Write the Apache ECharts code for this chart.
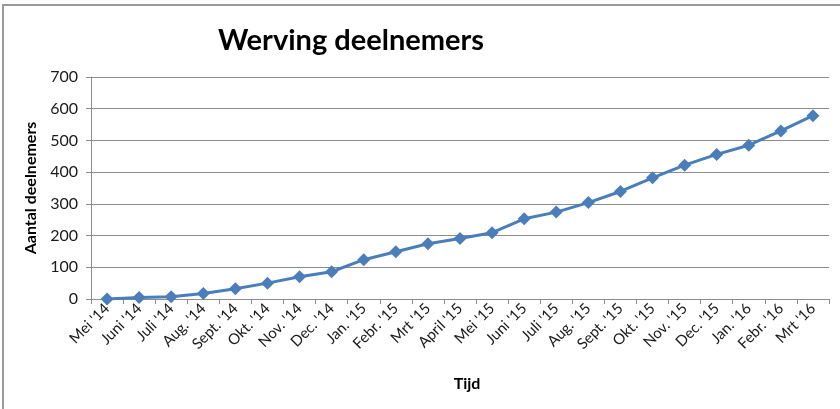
<!DOCTYPE html>
<html>
<head>
<meta charset="utf-8">
<script src="https://cdn.jsdelivr.net/npm/echarts@6/dist/echarts.min.js"></script>
<style>
html,body{margin:0;padding:0;background:#fff;}
#chart{width:840px;height:409px;}
</style>
</head>
<body>
<div id="chart"></div>
<script>
const categories = ["Mei '14","Juni '14","Juli '14","Aug. '14","Sept. '14","Okt. '14","Nov. '14","Dec. '14","Jan. '15","Febr. '15","Mrt '15","April '15","Mei '15","Juni '15","Juli '15","Aug. '15","Sept. '15","Okt. '15","Nov. '15","Dec. '15","Jan. '16","Febr. '16","Mrt '16"];
const deelnemers = [0,5,7,17,32,50,70,86,124,149,174,191,209,253,274,304,339,382,422,456,485,530,578];
const yTicks = {min:0, max:700, interval:100};

const chart = echarts.init(document.getElementById('chart'));
const font = 'Lato, "Liberation Sans", sans-serif';
chart.setOption({
  animation:false,
  backgroundColor:'#fff',
  graphic:[{type:'rect',shape:{x:3,y:5,width:900,height:500},style:{fill:'none',stroke:'#9a9a9a',lineWidth:2},silent:true}],
  title:{text:'Werving deelnemers',left:346,top:21,textAlign:'center',textStyle:{fontFamily:font,fontSize:29,fontWeight:'bold',color:'#000'}},
  grid:{left:91,right:11,top:77,bottom:110,containLabel:false},
  xAxis:{type:'category',data:categories,boundaryGap:true,
    name:'Tijd',nameLocation:'middle',nameGap:77,
    nameTextStyle:{fontFamily:font,fontSize:16,fontWeight:'bold',color:'#000',padding:[0,0,0,14]},
    axisLine:{lineStyle:{color:'#8c8c8c',width:1}},
    axisTick:{show:true,alignWithLabel:false,length:5,lineStyle:{color:'#8c8c8c'}},
    axisLabel:{rotate:45,interval:0,margin:7,fontFamily:font,fontSize:15,color:'#1a1a1a'},
    splitLine:{show:false}},
  yAxis:{type:'value',min:yTicks.min,max:yTicks.max,interval:yTicks.interval,
    name:'Aantal deelnemers',nameLocation:'middle',nameGap:49,nameRotate:90,
    nameTextStyle:{fontFamily:font,fontSize:16,fontWeight:'bold',color:'#000'},
    axisLine:{show:true,lineStyle:{color:'#8c8c8c',width:1}},
    axisTick:{show:true,length:5,lineStyle:{color:'#8c8c8c'}},
    axisLabel:{margin:13,fontFamily:font,fontSize:16,color:'#1a1a1a'},
    splitLine:{show:true,lineStyle:{color:'#8c8c8c',width:1}}},
  series:[{type:'line',data:deelnemers,symbol:'diamond',symbolSize:13,
    lineStyle:{color:'#4a7ebb',width:3},itemStyle:{color:'#4a7ebb'}}]
});
</script>
</body>
</html>
